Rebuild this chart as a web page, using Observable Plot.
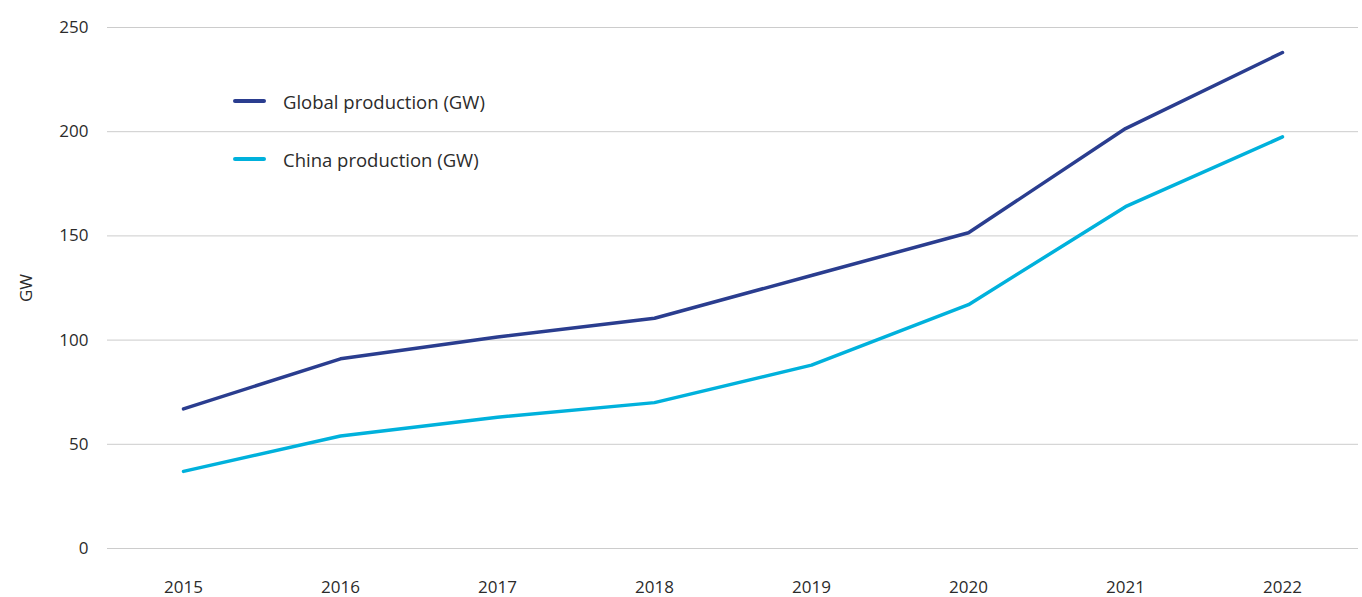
<!DOCTYPE html>
<html>
<head>
<meta charset="utf-8">
<script src="https://cdn.jsdelivr.net/npm/d3@7"></script>
<script src="https://cdn.jsdelivr.net/npm/@observablehq/plot@0.6"></script>
<style>
  html, body { margin: 0; padding: 0; background: #fff; }
  #wrap { position: relative; width: 1362px; height: 597px; font-family: "Open Sans", "Noto Sans", sans-serif; }
  .legend { position: absolute; left: 233px; font-size: 18.5px; color: #2b2b2b; }
  .legend div { display: flex; align-items: center; height: 24px; }
  .legend .sw { width: 33px; height: 3.5px; border-radius: 2px; margin-right: 17px; }
</style>
</head>
<body>
<div id="wrap"></div>
<script>
const years = [2015, 2016, 2017, 2018, 2019, 2020, 2021, 2022];
const globalProduction = [67, 91, 101.5, 110.5, 131, 151.5, 201.5, 238];
const chinaProduction = [37, 54, 63, 70, 88, 117, 164, 197.5];
const seriesNames = ["Global production (GW)", "China production (GW)"];
const seriesColors = ["#2a3d8f", "#00b1dc"];
const yTicks = [0, 50, 100, 150, 200, 250];

const data = [];
years.forEach((y, i) => {
  data.push({year: String(y), value: globalProduction[i], series: seriesNames[0]});
  data.push({year: String(y), value: chinaProduction[i], series: seriesNames[1]});
});

const chart = Plot.plot({
  width: 1362,
  height: 597,
  marginLeft: 107,
  marginRight: 4,
  marginTop: 27,
  marginBottom: 49,
  style: {fontFamily: '"Open Sans", "Noto Sans", sans-serif', fontSize: "17px", color: "#2b2b2b", background: "#fff"},
  x: {type: "point", domain: years.map(String), padding: 0.475, label: null},
  y: {domain: [0, 250], ticks: yTicks, label: "GW", labelArrow: "none"},
  color: {domain: seriesNames, range: seriesColors},
  marks: [
    Plot.ruleY(yTicks, {stroke: "#cccccc", strokeWidth: 1}),
    Plot.axisX({tickSize: 0, tickPadding: 32, fontSize: 17, label: null}),
    Plot.axisY({ticks: yTicks, tickSize: 0, tickPadding: 19, fontSize: 17, label: "GW", labelAnchor: "center", labelOffset: 88, labelArrow: "none"}),
    Plot.line(data, {x: "year", y: "value", z: "series", stroke: "series", strokeWidth: 3.5, strokeLinecap: "round", strokeLinejoin: "round"})
  ]
});

const wrap = document.getElementById("wrap");
wrap.appendChild(chart);

const legend = document.createElement("div");
legend.className = "legend";
legend.style.top = "89px";
seriesNames.forEach((name, i) => {
  const row = document.createElement("div");
  if (i > 0) row.style.marginTop = "34px";
  const sw = document.createElement("span");
  sw.className = "sw";
  sw.style.background = seriesColors[i];
  const label = document.createElement("span");
  label.textContent = name;
  row.appendChild(sw);
  row.appendChild(label);
  legend.appendChild(row);
});
wrap.appendChild(legend);
</script>
</body>
</html>
